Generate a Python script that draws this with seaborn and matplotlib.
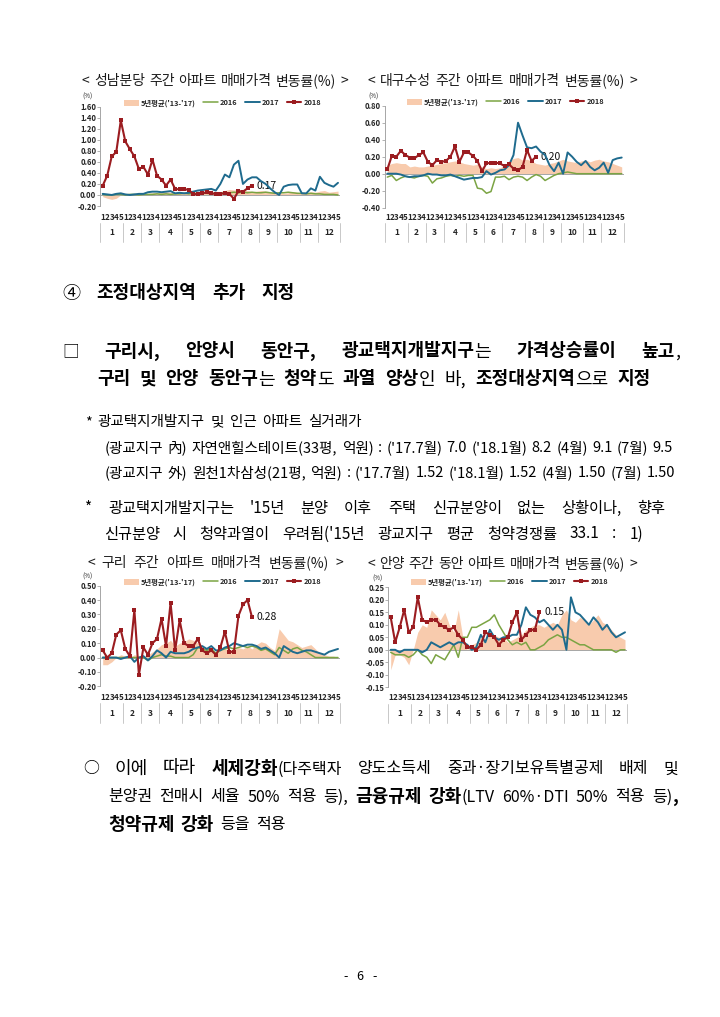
import numpy as np
import matplotlib
matplotlib.use('Agg')
import matplotlib.pyplot as plt
import matplotlib.transforms as mtransforms
import seaborn as sns

sns.set_theme(style='white')
plt.rcParams['font.family'] = ['Noto Sans CJK KR', 'DejaVu Sans']
plt.rcParams['axes.unicode_minus'] = False

# --- Datos (semanas por mes) ---
weeks_per_month = [5, 4, 4, 5, 4, 4, 5, 4, 4, 5, 4, 5]
month_labels = [str(m) for m in range(1, 13)]
legend_labels = ["5년평균('13-'17)", '2016', '2017', '2018']

chart_titles = [
    '< 성남분당 주간 아파트 매매가격 변동률(%) >',
    '< 대구수성 주간 아파트 매매가격 변동률(%) >',
    '< 구리 주간 아파트 매매가격 변동률(%) >',
    '< 안양 주간 동안 아파트 매매가격 변동률(%) >',
]

# 성남분당
sn_avg = [-0.03, -0.06, -0.08, -0.06, 0.00, 0.01, 0.02, 0.01, 0.02, 0.03, 0.03, 0.04, 0.04,
          0.05, 0.06, 0.05, 0.04, 0.03, 0.04, 0.05, 0.06, 0.05, 0.04, 0.05, 0.06, 0.05,
          0.06, 0.08, 0.10, 0.09, 0.10, 0.09, 0.08, 0.06, 0.07, 0.08, 0.07, 0.06, 0.05,
          0.04, 0.03, 0.04, 0.06, 0.05, 0.03, 0.04, 0.06, 0.05, 0.07, 0.08, 0.05, 0.06, 0.07]
sn_2016 = [0.01, 0.00, 0.00, 0.01, 0.01, 0.00, 0.01, 0.01, 0.00, 0.01, 0.01, 0.01, 0.02,
           0.01, 0.02, 0.01, 0.02, 0.02, 0.03, 0.02, 0.03, 0.02, 0.03, 0.03, 0.02, 0.03,
           0.04, 0.03, 0.04, 0.05, 0.04, 0.05, 0.04, 0.05, 0.04, 0.04, 0.05, 0.04, 0.03,
           0.04, 0.04, 0.05, 0.04, 0.03, 0.03, 0.02, 0.03, 0.02, 0.02, 0.01, 0.01, 0.01, 0.00]
sn_2017 = [0.02, 0.01, 0.00, 0.02, 0.03, 0.01, 0.00, 0.01, 0.02, 0.02, 0.05, 0.06, 0.06,
           0.05, 0.06, 0.07, 0.03, 0.04, 0.03, 0.04, 0.06, 0.08, 0.09, 0.10, 0.11, 0.08,
           0.20, 0.37, 0.32, 0.55, 0.62, 0.20, 0.28, 0.32, 0.32, 0.25, 0.20, 0.12, 0.05,
           0.00, 0.15, 0.18, 0.19, 0.19, 0.03, 0.03, 0.12, 0.08, 0.33, 0.22, 0.18, 0.15, 0.22]
sn_2018 = [0.17, 0.35, 0.70, 0.78, 1.35, 0.97, 0.83, 0.70, 0.47, 0.51, 0.37, 0.64, 0.35,
           0.28, 0.17, 0.28, 0.11, 0.10, 0.11, 0.09, 0.02, 0.01, 0.03, 0.05, 0.03, 0.02,
           0.02, 0.03, 0.02, -0.07, 0.07, 0.06, 0.12, 0.17]

# 대구수성
dg_avg = [0.10, 0.12, 0.13, 0.12, 0.12, 0.08, 0.09, 0.08, 0.08, 0.09, 0.10, 0.11, 0.12,
          0.13, 0.14, 0.15, 0.14, 0.12, 0.11, 0.10, 0.11, 0.08, 0.06, 0.07, 0.06, 0.07,
          0.10, 0.14, 0.18, 0.19, 0.16, 0.17, 0.15, 0.12, 0.11, 0.10, 0.12, 0.13, 0.15,
          0.17, 0.15, 0.14, 0.13, 0.15, 0.16, 0.14, 0.16, 0.17, 0.15, 0.14, 0.12, 0.10, 0.08]
dg_2016 = [-0.04, -0.02, -0.08, -0.05, -0.03, -0.04, -0.05, -0.03, -0.02, -0.03, -0.11, -0.06, -0.05,
           -0.03, -0.02, -0.03, -0.02, -0.03, -0.02, -0.02, -0.17, -0.18, -0.23, -0.21, -0.04, -0.04,
           -0.03, -0.07, -0.04, -0.03, -0.04, -0.08, -0.04, -0.01, -0.03, -0.08, -0.05, -0.02, 0.00,
           0.01, 0.02, 0.01, 0.00, 0.00, 0.00, 0.00, 0.00, 0.00, 0.00, 0.00, 0.00, 0.00, 0.00]
dg_2017 = [0.00, 0.00, 0.00, -0.01, -0.03, -0.04, -0.03, -0.03, -0.02, 0.00, -0.01, -0.01, -0.02,
           -0.02, -0.01, -0.03, -0.05, -0.07, -0.06, -0.05, -0.05, -0.04, 0.03, -0.01, 0.01, 0.04,
           0.05, 0.10, 0.22, 0.60, 0.45, 0.31, 0.30, 0.32, 0.26, 0.22, 0.10, 0.03, 0.13,
           0.00, 0.25, 0.20, 0.14, 0.10, 0.15, 0.08, 0.04, 0.07, 0.13, 0.01, 0.16, 0.18, 0.19]
dg_2018 = [0.05, 0.21, 0.20, 0.27, 0.22, 0.19, 0.18, 0.22, 0.25, 0.14, 0.10, 0.16, 0.14,
           0.15, 0.20, 0.32, 0.14, 0.25, 0.25, 0.21, 0.15, 0.03, 0.12, 0.13, 0.13, 0.12,
           0.09, 0.11, 0.06, 0.04, 0.08, 0.28, 0.15, 0.20]

# 구리
gr_avg = [-0.05, -0.05, -0.03, 0.00, 0.02, 0.01, 0.00, 0.02, 0.01, 0.01, 0.02, 0.04, 0.06,
          0.09, 0.10, 0.12, 0.08, 0.10, 0.11, 0.13, 0.12, 0.10, 0.08, 0.06, 0.05, 0.04,
          0.05, 0.06, 0.05, 0.06, 0.07, 0.06, 0.08, 0.06, 0.09, 0.11, 0.10, 0.07, 0.05,
          0.20, 0.16, 0.12, 0.11, 0.09, 0.07, 0.08, 0.09, 0.06, 0.03, 0.02, 0.01, 0.01, 0.00]
gr_2016 = [0.00, 0.00, 0.00, 0.00, 0.00, 0.00, 0.00, 0.00, 0.00, 0.00, -0.02, 0.00, 0.01,
           0.02, 0.01, 0.01, 0.00, 0.00, 0.00, 0.00, 0.02, 0.07, 0.06, 0.05, 0.06, 0.03,
           0.05, 0.06, 0.07, 0.06, 0.07, 0.08, 0.07, 0.08, 0.07, 0.05, 0.06, 0.04, 0.02,
           0.07, 0.05, 0.03, 0.06, 0.07, 0.05, 0.04, 0.02, 0.00, 0.00, 0.00, 0.00, 0.00, 0.00]
gr_2017 = [0.00, 0.00, 0.00, 0.00, -0.01, 0.00, 0.01, -0.03, 0.00, 0.01, -0.02, 0.01, 0.05,
           0.03, 0.00, 0.04, 0.03, 0.03, 0.03, 0.04, 0.06, 0.07, 0.08, 0.06, 0.08, 0.05,
           0.05, 0.07, 0.08, 0.10, 0.09, 0.08, 0.09, 0.09, 0.08, 0.06, 0.07, 0.05, 0.03,
           0.00, 0.08, 0.06, 0.04, 0.03, 0.04, 0.05, 0.05, 0.04, 0.03, 0.02, 0.04, 0.05, 0.06]
gr_2018 = [0.05, 0.00, 0.03, 0.16, 0.19, 0.06, 0.01, 0.33, -0.12, 0.07, 0.02, 0.10, 0.13,
           0.27, 0.08, 0.38, 0.05, 0.26, 0.10, 0.08, 0.08, 0.13, 0.05, 0.03, 0.05, 0.02,
           0.07, 0.18, 0.04, 0.04, 0.29, 0.37, 0.40, 0.28]

# 안양 동안
ay_avg = [-0.08, -0.02, -0.02, -0.03, -0.06, 0.00, 0.07, 0.10, 0.09, 0.16, 0.14, 0.12, 0.15,
          0.10, 0.07, 0.16, 0.05, 0.00, 0.02, 0.03, 0.05, 0.04, 0.07, 0.06, 0.05, 0.05,
          0.03, 0.04, 0.05, 0.06, 0.08, 0.09, 0.10, 0.10, 0.09, 0.10, 0.11, 0.10, 0.14,
          0.16, 0.12, 0.11, 0.13, 0.12, 0.10, 0.12, 0.14, 0.11, 0.10, 0.08, 0.06, 0.05, 0.04]
ay_2016 = [-0.01, -0.02, -0.02, -0.02, -0.03, -0.02, 0.00, -0.02, -0.03, -0.055, -0.02, -0.03, -0.04,
           -0.01, 0.02, -0.03, 0.05, 0.05, 0.09, 0.09, 0.10, 0.11, 0.12, 0.14, 0.10, 0.07,
           0.04, 0.02, 0.03, 0.02, 0.03, 0.00, 0.00, 0.01, 0.02, 0.04, 0.05, 0.06, 0.05,
           0.05, 0.04, 0.03, 0.02, 0.02, 0.01, 0.00, 0.00, 0.00, 0.00, 0.00, -0.01, 0.00, 0.00]
ay_2017 = [0.00, 0.00, -0.01, 0.00, 0.00, 0.00, 0.00, -0.01, 0.00, 0.03, 0.02, 0.01, 0.02,
           0.03, 0.02, 0.03, 0.03, 0.02, 0.00, 0.01, 0.06, 0.03, 0.08, 0.05, 0.04, 0.05,
           0.05, 0.06, 0.06, 0.10, 0.17, 0.14, 0.13, 0.11, 0.12, 0.10, 0.08, 0.10, 0.08,
           0.00, 0.21, 0.15, 0.14, 0.12, 0.10, 0.13, 0.11, 0.08, 0.10, 0.07, 0.05, 0.06, 0.07]
ay_2018 = [0.13, 0.03, 0.09, 0.16, 0.07, 0.09, 0.21, 0.12, 0.11, 0.12, 0.12, 0.10, 0.09,
           0.08, 0.09, 0.06, 0.04, 0.01, 0.01, 0.00, 0.02, 0.07, 0.06, 0.05, 0.02, 0.04,
           0.05, 0.11, 0.15, 0.04, 0.06, 0.08, 0.08, 0.15]

# --- Texto del documento (^ = negrita, ~ = letra pequeña) ---
body_lines = [
    # (texto, x0, y centro, tamaño, x1, tamaño pequeño)
    ('④ ^조정대상지역 추가 지정^', 62, 292, 13, 295, None),
    ('~□~ ^구리시, 안양시 동안구, 광교택지개발지구^는 ^가격상승률이 높고^,', 62, 350, 13, 680, 12),
    ('^구리 및 안양 동안구^는 ^청약^도 ^과열 양상^인 바, ^조정대상지역^으로 ^지정^', 97, 378, 13, 651, None),
    ('* 광교택지개발지구 및 인근 아파트 실거래가', 85, 421, 10.5, 362, None),
    ("(광교지구 內) 자연앤힐스테이트(33평, 억원) : ('17.7월) 7.0 ('18.1월) 8.2 (4월) 9.1 (7월) 9.5",
     105, 447, 10.5, 673, None),
    ("(광교지구 外) 원천1차삼성(21평, 억원) : ('17.7월) 1.52 ('18.1월) 1.52 (4월) 1.50 (7월) 1.50",
     105, 472, 10.5, 675, None),
    ("* 광교택지개발지구는 '15년 분양 이후 주택 신규분양이 없는 상황이나, 향후", 85, 507, 11, 665, None),
    ("신규분양 시 청약과열이 우려됨('15년 광교지구 평균 청약경쟁률 33.1 : 1)", 104, 533, 11, 643, None),
    ('~○~ 이에 따라 ^세제강화^~(다주택자 양도소득세 중과·장기보유특별공제 배제 및~', 83, 767, 13, 678, 11.5),
    ('~분양권 전매시 세율 50% 적용 등),~ ^금융규제 강화^~(LTV 60%·DTI 50% 적용 등)~^,^', 108, 795, 13, 678, 11.5),
    ('^청약규제 강화^ ~등을 적용~', 108, 823, 13, None, 11.5),
    ('- 6 -', 343, 976, 9, 377, None),
]

# --- Colores ---
C_AVG = '#f8cbad'
C16 = '#7ba443'
C17 = '#1f6b8e'
C18 = '#9b1c20'
GRIS = '#a6a6a6'

W, H = 720, 1017
fig = plt.figure(figsize=(W / 100, H / 100), dpi=100)
fig.patch.set_facecolor('white')
renderer = fig.canvas.get_renderer()


def fx(x):
    return x / W


def fy(y):
    return 1 - y / H


def parse(markup):
    """Divide el texto en palabras, cada una con segmentos (texto, estilo)."""
    words = []
    bold = small = False
    for token in markup.split(' '):
        segs, buf = [], ''
        for ch in token:
            if ch in '^~':
                if buf:
                    segs.append((buf, 'b' if bold else ('s' if small else 'r')))
                    buf = ''
                if ch == '^':
                    bold = not bold
                else:
                    small = not small
            else:
                buf += ch
        if buf:
            segs.append((buf, 'b' if bold else ('s' if small else 'r')))
        if segs:
            words.append(segs)
    return words


def seg_width(s, weight, size):
    t = fig.text(0, 0, s, fontsize=size, fontweight=weight)
    w = t.get_window_extent(renderer).width
    t.remove()
    return w


def draw_line(markup, x0, y, size, x1=None, small=None, color='black', gap_em=0.35):
    words = parse(markup)
    small = small or size
    for _ in range(3):
        styles = {'r': ('normal', size), 'b': ('bold', size), 's': ('normal', small)}
        widths = [[seg_width(s, *styles[st]) for s, st in w] for w in words]
        total = sum(sum(ws) for ws in widths)
        em = size * 100 / 72
        if x1 is None or len(words) < 2:
            gap = gap_em * em
            break
        gap = (x1 - x0 - total) / (len(words) - 1)
        if gap >= 0.2 * em:
            break
        f = (x1 - x0 - 0.25 * em * (len(words) - 1)) / total
        size *= f
        small *= f
    base = y + 0.36 * size * 100 / 72
    x = x0
    for w, ws in zip(words, widths):
        for (s, st), sw in zip(w, ws):
            weight, sz = styles[st]
            fig.text(fx(x), fy(base), s, fontsize=sz, fontweight=weight,
                     va='baseline', ha='left', color=color)
            x += sw
        x += gap


def draw_chart(cfg, avg, s16, s17, s18, title):
    x_first, x_last, y_top, y_bot = cfg['box']
    per = (x_last - x_first) / 52
    ax = fig.add_axes([fx(x_first - per / 2), fy(y_bot), 53 * per / W, (y_bot - y_top) / H])
    ax.patch.set_alpha(0)
    weeks = np.arange(53)

    ax.fill_between(weeks, 0, avg, color=C_AVG, lw=0, label=legend_labels[0], zorder=1)
    ax.axhline(0, color=GRIS, lw=0.7, zorder=2)
    sns.lineplot(x=weeks, y=s16, ax=ax, color=C16, lw=1.1, label=legend_labels[1], zorder=3)
    sns.lineplot(x=weeks, y=s17, ax=ax, color=C17, lw=1.4, label=legend_labels[2], zorder=4)
    sns.lineplot(x=weeks[:len(s18)], y=s18, ax=ax, color=C18, lw=1.5, marker='s',
                 markersize=2.4, markeredgewidth=0, label=legend_labels[3], zorder=5)

    lo, hi = cfg['ylim']
    ax.set_xlim(-0.5, 52.5)
    ax.set_ylim(lo, hi)
    ticks = [round(t, 2) + 0.0 for t in np.arange(lo, hi + cfg['step'] / 2, cfg['step'])]
    ax.set_yticks(ticks)
    ax.set_yticklabels([f'{t:.2f}' for t in ticks], fontsize=5.5, fontweight='bold', color='#262626')
    ax.set_xticks([])
    ax.set_xlabel('')
    ax.set_ylabel('')
    ax.tick_params(axis='y', direction='out', length=2, width=0.6, color=GRIS, pad=1, left=True)
    for side in ['top', 'right', 'bottom']:
        ax.spines[side].set_visible(False)
    ax.spines['left'].set_color(GRIS)
    ax.spines['left'].set_linewidth(0.7)

    ax.legend(loc='center left', bbox_to_anchor=(fx(cfg['legend'][0]), fy(cfg['legend'][1])),
              bbox_transform=fig.transFigure, ncol=4, frameon=False,
              prop={'size': 5.3, 'weight': 'bold'}, handlelength=2.0, handleheight=0.9,
              handletextpad=0.3, columnspacing=1.0, borderpad=0, borderaxespad=0)

    last = s18[-1]
    ax.annotate(f'{last:.2f}', xy=(len(s18) - 1, last), xytext=(3.5, 0),
                textcoords='offset points', fontsize=7.5, va='center', ha='left', color='#111111')

    # eje de categorías en dos niveles (semana / mes)
    trans = mtransforms.blended_transform_factory(ax.transData, fig.transFigure)
    wy, my = cfg['week_y'], cfg['month_y']
    sep = [fy(wy + 6), fy(my + 9)]
    ax.plot([-0.5, -0.5], sep, transform=trans, clip_on=False, color='#bfbfbf', lw=0.6)
    start = 0
    for m, n in enumerate(weeks_per_month):
        for k in range(n):
            ax.text(start + k, fy(wy), str(k + 1), transform=trans, ha='center', va='center',
                    fontsize=5.8, fontweight='bold', color='#262626')
        ax.text(start + (n - 1) / 2, fy(my), month_labels[m], transform=trans, ha='center',
                va='center', fontsize=6, fontweight='bold', color='#262626')
        start += n
        ax.plot([start - 0.5, start - 0.5], sep, transform=trans, clip_on=False,
                color='#bfbfbf', lw=0.6)

    fig.text(fx(cfg['pct'][0]), fy(cfg['pct'][1]), '(%)', fontsize=4.5, va='center', ha='left',
             color='#262626')
    draw_line(title, cfg['title'][0], cfg['title_y'], 10, cfg['title'][1], color='#1a1a1a')
    return ax


chart_cfgs = [
    dict(box=(102.7, 338, 106.7, 206), ylim=(-0.2, 1.6), step=0.2, title=(82, 348), title_y=80,
         legend=(124, 103), pct=(82, 97), week_y=217, month_y=233),
    dict(box=(387.3, 621.7, 105.7, 207.7), ylim=(-0.4, 0.8), step=0.2, title=(367, 637), title_y=80,
         legend=(407, 102), pct=(368, 97), week_y=217, month_y=233),
    dict(box=(102.7, 338, 585.7, 686.3), ylim=(-0.2, 0.5), step=0.1, title=(87, 343), title_y=562,
         legend=(124, 582), pct=(82, 577), week_y=697, month_y=714),
    dict(box=(390.7, 625, 587.3, 687.3), ylim=(-0.15, 0.25), step=0.05, title=(367, 637), title_y=563,
         legend=(411, 582), pct=(372, 579), week_y=698, month_y=714),
]

series = [
    (sn_avg, sn_2016, sn_2017, sn_2018),
    (dg_avg, dg_2016, dg_2017, dg_2018),
    (gr_avg, gr_2016, gr_2017, gr_2018),
    (ay_avg, ay_2016, ay_2017, ay_2018),
]

for cfg, (a, s16, s17, s18), title in zip(chart_cfgs, series, chart_titles):
    draw_chart(cfg, a, s16, s17, s18, title)

for markup, x0, y, size, x1, small in body_lines:
    draw_line(markup, x0, y, size, x1, small)

fig.savefig('out.png', dpi=100, facecolor='white')
